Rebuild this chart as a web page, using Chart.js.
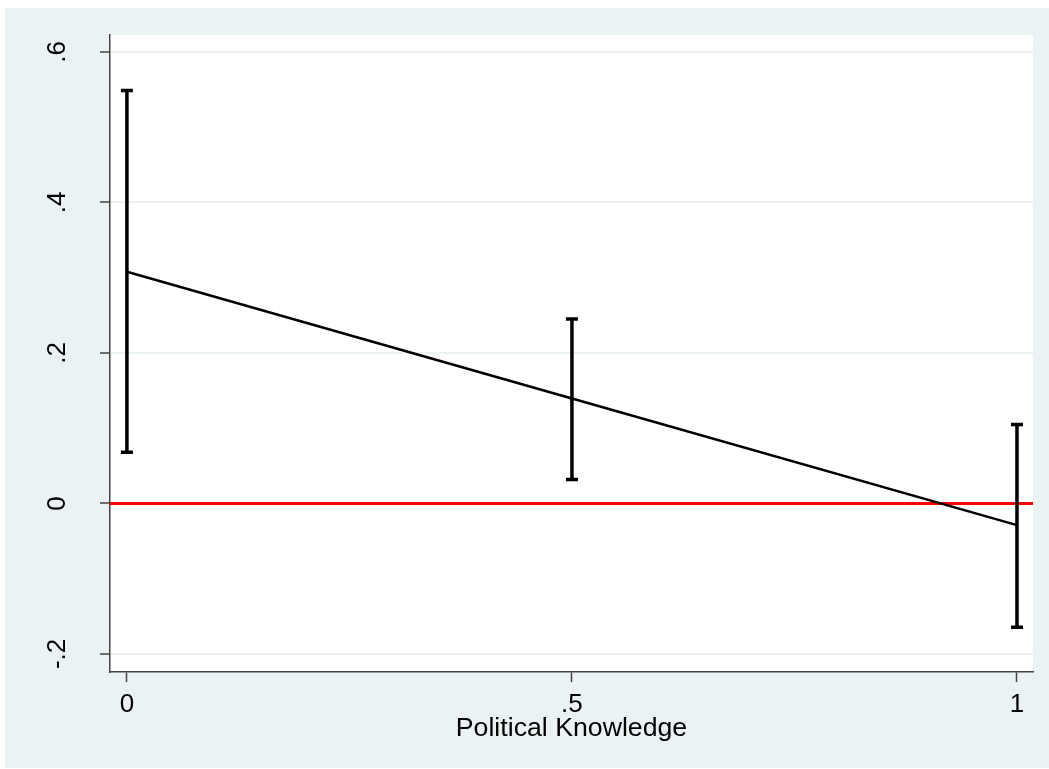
<!DOCTYPE html>
<html>
<head>
<meta charset="utf-8">
<title>Political Knowledge</title>
<script src="https://cdn.jsdelivr.net/npm/chart.js@4.4.1/dist/chart.umd.min.js"></script>
<style>
  html, body { margin: 0; padding: 0; background: #ffffff; }
  canvas { display: block; }
</style>
</head>
<body>
<canvas id="chart" width="1049" height="769"></canvas>
<script>
// Marginal effect estimates with confidence intervals across political knowledge
const knowledgeLevels = [0, 0.5, 1];
const estimates = [0.308, 0.1395, -0.0288];
const ciLower = [0.068, 0.032, -0.1645];
const ciUpper = [0.549, 0.245, 0.105];

// Axis ticks and labels
const xTickValues = [0, 0.5, 1];
const xTickLabels = ['0', '.5', '1'];
const yTickValues = [-0.2, 0, 0.2, 0.4, 0.6];
const yTickLabels = ['-.2', '0', '.2', '.4', '.6'];

// Horizontal reference line
const referenceValue = 0;

const FONT = "'Liberation Sans', Arial, Helvetica, sans-serif";
const BG = '#EAF2F3';

// Outer panel and white plot region
const backgroundPlugin = {
  id: 'panelBackground',
  beforeDraw(chart) {
    const { ctx, chartArea: a, width, height } = chart;
    ctx.save();
    ctx.fillStyle = '#ffffff';
    ctx.fillRect(0, 0, width, height);
    ctx.fillStyle = BG;
    ctx.fillRect(5, 8, width - 5, height - 9);
    ctx.fillStyle = '#ffffff';
    ctx.fillRect(a.left, a.top, a.right - a.left, a.bottom - a.top);
    ctx.restore();
  }
};

// Red reference line at y = 0, drawn under the data
const referencePlugin = {
  id: 'referenceLine',
  beforeDatasetsDraw(chart) {
    const { ctx, chartArea: a, scales: { y } } = chart;
    const py = y.getPixelForValue(referenceValue);
    ctx.save();
    ctx.strokeStyle = '#ff0000';
    ctx.lineWidth = 3;
    ctx.beginPath();
    ctx.moveTo(a.left, py);
    ctx.lineTo(a.right, py);
    ctx.stroke();
    ctx.restore();
  }
};

// Capped confidence-interval bars
const errorBarPlugin = {
  id: 'errorBars',
  afterDatasetsDraw(chart) {
    const { ctx, scales: { x, y } } = chart;
    const cap = 6;
    ctx.save();
    ctx.strokeStyle = '#000000';
    ctx.lineWidth = 3.5;
    ctx.lineCap = 'butt';
    knowledgeLevels.forEach((k, i) => {
      const px = x.getPixelForValue(k);
      const top = y.getPixelForValue(ciUpper[i]);
      const bot = y.getPixelForValue(ciLower[i]);
      ctx.beginPath();
      ctx.moveTo(px, top);
      ctx.lineTo(px, bot);
      ctx.moveTo(px - cap, top);
      ctx.lineTo(px + cap, top);
      ctx.moveTo(px - cap, bot);
      ctx.lineTo(px + cap, bot);
      ctx.stroke();
    });
    ctx.restore();
  }
};

new Chart(document.getElementById('chart'), {
  type: 'line',
  data: {
    datasets: [{
      data: knowledgeLevels.map((k, i) => ({ x: k, y: estimates[i] })),
      borderColor: '#000000',
      borderWidth: 2.5,
      pointRadius: 0,
      tension: 0,
      fill: false
    }]
  },
  options: {
    responsive: false,
    animation: false,
    layout: { padding: { top: 35, right: 16, left: 0, bottom: 0 } },
    plugins: { legend: { display: false }, tooltip: { enabled: false } },
    scales: {
      x: {
        type: 'linear',
        min: -0.019,
        max: 1.018,
        afterBuildTicks(scale) { scale.ticks = xTickValues.map(v => ({ value: v })); },
        afterFit(scale) {
          scale.height = 97;
          scale.paddingLeft = 0;
          scale.paddingRight = 0;
        },
        ticks: {
          autoSkip: false,
          maxRotation: 0,
          minRotation: 0,
          padding: 7,
          color: '#000000',
          font: { family: FONT, size: 26 },
          callback: v => xTickLabels[xTickValues.indexOf(v)]
        },
        grid: {
          drawOnChartArea: false,
          drawTicks: true,
          tickLength: 10,
          tickColor: '#444444',
          tickWidth: 1.5
        },
        border: { display: true, color: '#444444', width: 1.5 },
        title: {
          display: true,
          text: 'Political Knowledge',
          color: '#000000',
          font: { family: FONT, size: 26.7 },
          padding: { top: 0, bottom: 24 }
        }
      },
      y: {
        type: 'linear',
        min: -0.224,
        max: 0.6226,
        afterBuildTicks(scale) { scale.ticks = yTickValues.map(v => ({ value: v })); },
        afterFit(scale) {
          scale.width = 110;
          scale.paddingTop = 0;
          scale.paddingBottom = 0;
        },
        ticks: {
          autoSkip: false,
          minRotation: 90,
          maxRotation: 90,
          crossAlign: 'center',
          padding: 27,
          color: '#000000',
          font: { family: FONT, size: 26 },
          callback: v => yTickLabels[yTickValues.indexOf(v)]
        },
        grid: {
          color: BG,
          lineWidth: 2,
          drawTicks: true,
          tickLength: 10,
          tickColor: '#444444',
          tickWidth: 1.5
        },
        border: { display: true, color: '#444444', width: 1.5 }
      }
    }
  },
  plugins: [backgroundPlugin, referencePlugin, errorBarPlugin]
});
</script>
</body>
</html>
